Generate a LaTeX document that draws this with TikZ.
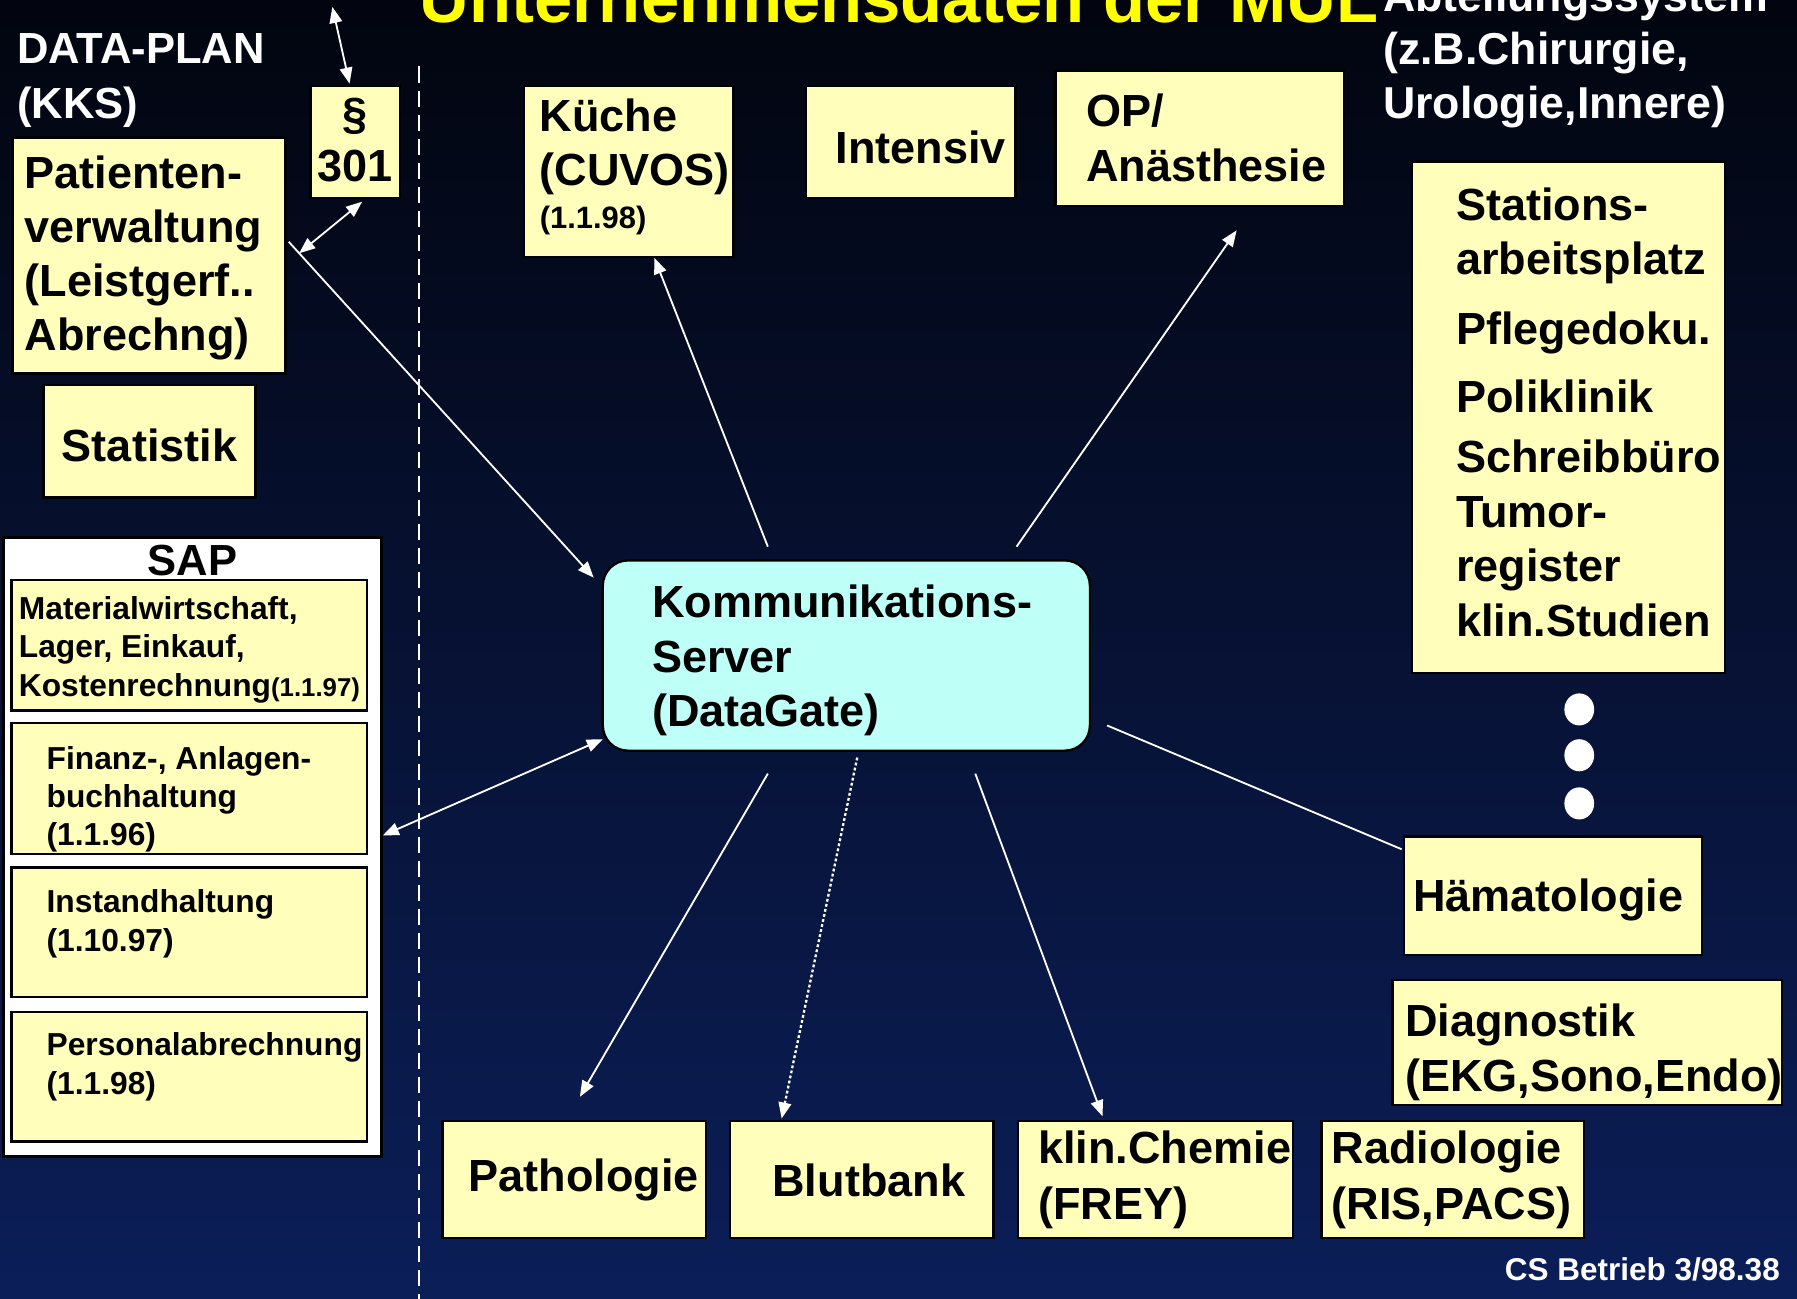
\documentclass[tikz,border=0pt]{standalone}
\usepackage{fontspec}
\setmainfont{Liberation Sans}
\usetikzlibrary{arrows.meta,calc,shapes.geometric}
\definecolor{ylw}{RGB}{255,255,187}
\definecolor{cyn}{RGB}{190,255,248}
\definecolor{bgtop}{RGB}{2,5,15}
\definecolor{bgmid}{RGB}{7,19,64}
\definecolor{bgbot}{RGB}{11,30,88}
\definecolor{ttl}{RGB}{255,255,0}
\newcommand{\fs}[2]{\fontsize{#1pt}{#2pt}\selectfont}
\newcommand{\fb}[1]{\rule{0pt}{#1pt}}
\newcommand{\bt}[4]{\parbox[c][#2pt][t]{#1pt}{\raggedright\setlength{\leftskip}{#3pt}\hyphenpenalty=10000 \exhyphenpenalty=10000 #4}}
\newcommand{\btc}[3]{\parbox[c][#2pt][t]{#1pt}{\centering\hyphenpenalty=10000 \exhyphenpenalty=10000 #3}}
\begin{document}
\begin{tikzpicture}[x=1pt,y=-1pt,
  every node/.style={inner sep=0pt,outer sep=0pt,font=\bfseries},
  ybox/.style={draw=black,line width=2pt,fill=ylw,anchor=north west},
  cbox/.style={draw=black,line width=2pt,fill=cyn,rounded corners=22pt,anchor=north west},
  wbox/.style={draw=black,line width=2pt,fill=white,anchor=north west},
  wtxt/.style={text=white,anchor=north west},
  con/.style={white,line width=1.6pt},
  arr/.style={con,-{Triangle[length=14pt,width=11pt]}},
  darr/.style={con,{Triangle[length=14pt,width=11pt]}-{Triangle[length=14pt,width=11pt]}},
  dotarr/.style={con,line width=2pt,dash pattern=on 2.5pt off 2pt,-{Triangle[length=14pt,width=11pt]}},
  dot/.style={ellipse,fill=white,minimum width=26pt,minimum height=28pt}]
\useasboundingbox (0,0) rectangle (1568,1133);
\clip (0,0) rectangle (1568,1133);
\shade[top color=bgtop,middle color=bgmid,bottom color=bgbot] (0,0) rectangle (1568,1133);
\draw[white,line width=1.8pt,dash pattern=on 14pt off 7pt] (366,58) -- (366,1140);

% titles
\node[text=ttl,anchor=base west] (title) at (366,20) {\fs{60}{70}Unternehmensdaten der MUL};
\node[wtxt] (abt) at (1207,-30) {\bt{400}{150}{0}{\fs{39}{46.5}\fb{40}Abteilungssystem\\(z.B.Chirurgie,\\Urologie,Innere)}};
\node[wtxt] (dp) at (15,15) {\bt{250}{100}{0}{\fs{38}{47.4}\fb{40.8}DATA-PLAN\\(KKS)}};
\node[text=white,anchor=base east] (cs) at (1553,1117) {\fs{27.5}{32}CS Betrieb 3/98.38};

% left column
\node[ybox] (par) at (271,75) {\btc{78}{98}{\fs{39.3}{45.5}\fb{38}§\\301}};
\node[ybox] (pat) at (11,120) {\bt{238}{206}{10.4}{\fs{39.3}{47.2}\fb{44.3}Patienten-\\verwaltung\\(Leistgerf..\\Abrechng)}};
\node[ybox] (stat) at (38,336) {\btc{185}{98}{\fs{39.3}{47}\fb{67}Statistik}};

% SAP
\node[wbox] (sap) at (3,469) {\btc{330}{540}{\fs{38}{46}\fb{33}SAP}};
\node[ybox] (mat) at (10,506) {\bt{310}{114}{6.5}{\fs{27.7}{33.5}\fb{34.6}Materialwirtschaft,\\Lager, Einkauf,\\Kostenrechnung{\fs{22.5}{33.5}(1.1.97)}}};
\node[ybox] (fin) at (10,631) {\bt{310}{114}{30.7}{\fs{27.7}{33.5}\fb{40}Finanz-, Anlagen-\\buchhaltung\\(1.1.96)}};
\node[ybox] (ins) at (10,757) {\bt{310}{113}{30.7}{\fs{27.7}{34}\fb{39}Instandhaltung\\(1.10.97)}};
\node[ybox] (pers) at (10,883) {\bt{310}{113}{30.7}{\fs{27.7}{34.4}\fb{37.6}Personalabrechnung\\(1.1.98)}};

% top row
\node[ybox] (kue) at (457,75) {\bt{183}{149}{14}{\fs{39.3}{46.5}\fb{40}Küche\\(CUVOS)\\[5.5pt]\fs{27}{32}(1.1.98)}};
\node[ybox] (int) at (703,75) {\bt{183}{98}{26}{\fs{39.3}{47}\fb{67.6}Intensiv}};
\node[ybox] (op) at (921,62) {\bt{252}{118}{26.6}{\fs{39.3}{48}\fb{48.5}OP/\\Anästhesie}};

% right column
\node[ybox] (stn) at (1232,141) {\bt{273}{446}{38.5}{\fs{39.3}{47.5}\fb{51}Stations-\\arbeitsplatz\\[13.7pt]Pflegedoku.\\[11.7pt]Poliklinik\\[5.1pt]Schreibbüro\\Tumor-\\register\\klin.Studien}};
\node[dot] (d1) at (1378,619) {};
\node[dot] (d2) at (1378,659) {};
\node[dot] (d3) at (1378,701) {};
\node[ybox] (hae) at (1225,730) {\bt{260}{103}{8}{\fs{39.3}{47}\fb{65.6}Hämatologie}};
\node[ybox] (dia) at (1215,855) {\bt{340}{109}{11}{\fs{39.3}{48}\fb{49}Diagnostik\\(EKG,Sono,Endo)}};

% bottom row
\node[ybox] (path) at (386,978) {\bt{230}{102}{23}{\fs{39.3}{47}\fb{62}Pathologie}};
\node[ybox] (blut) at (637,978) {\bt{230}{102}{37}{\fs{39.3}{47}\fb{66}Blutbank}};
\node[ybox] (chem) at (888,978) {\bt{240}{102}{18}{\fs{39.3}{48.3}\fb{37.5}klin.Chemie\\(FREY)}};
\node[ybox] (rad) at (1153,978) {\bt{229}{102}{9}{\fs{39.3}{48.3}\fb{37.5}Radiologie\\(RIS,PACS)}};

% server
\node[cbox] (srv) at (526,489) {\bt{425}{166}{43}{\fs{39.3}{47.5}\fb{50}Kommunikations-\\Server\\(DataGate)}};

% connectors
\coordinate (t301) at ($(par.north)+(-20,-69)$);
\draw[darr] (t301) -- ($(par.north)+(-5,-2)$);
\draw[darr] ($(par.south)+(6,3)$) -- ($(pat.east)+(12,-2)$);
\draw[arr] ($(pat.east)+(3,-12)$) -- ($(srv.north west)+(-8,15)$);
\draw[darr] ($(srv.south west)+(0,-10)$) -- ($(sap.east)+(1,-10)$);
\draw[arr] ($(srv.north)+(-68.5,-12)$) -- ($(kue.south)+(22.5,1)$);
\draw[arr] ($(srv.north)+(148.5,-12)$) -- ($(op.south)+(32,21)$);
\draw[con] ($(srv.east)+(15,61)$) -- ($(hae.north west)+(-2,11)$);
\draw[arr] ($(srv.south)+(-68.5,20)$) -- ($(path.north)+(5,-21)$);
\draw[dotarr] ($(srv.south)+(9.5,6)$) -- ($(blut.north)+(-70,-2)$);
\draw[arr] ($(srv.south)+(112.5,20)$) -- ($(chem.north)+(-46,-4)$);
\end{tikzpicture}
\end{document}
